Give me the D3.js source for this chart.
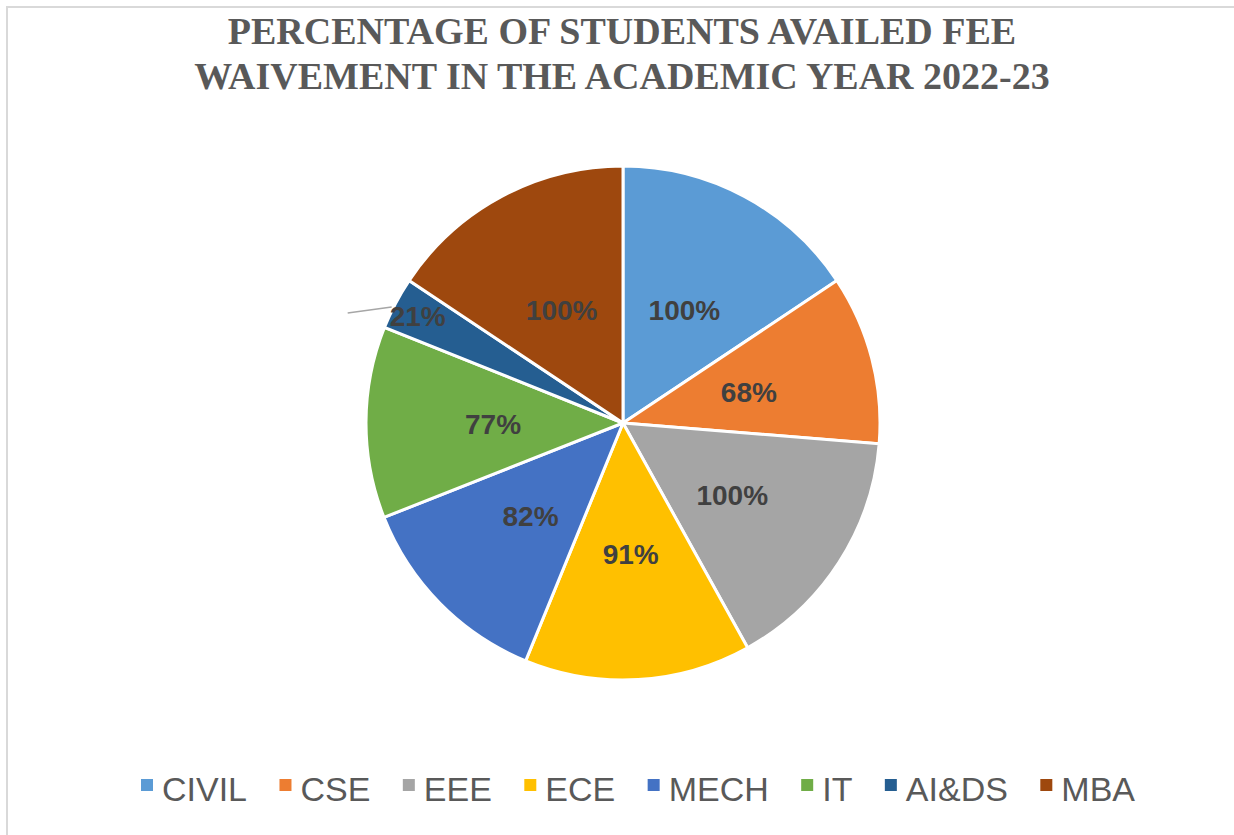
<!DOCTYPE html>
<html><head><meta charset="utf-8">
<script src="https://cdn.jsdelivr.net/npm/d3@7/dist/d3.min.js"></script>
<style>html,body{margin:0;padding:0;background:#fff;}svg{display:block;}</style>
</head><body>
<script>
const categories = ["CIVIL","CSE","EEE","ECE","MECH","IT","AI&DS","MBA"];
const values = [100,68,100,91,82,77,21,100];
const labels = ["100%","68%","100%","91%","82%","77%","21%","100%"];
const colors = ["#5B9BD5","#ED7D31","#A5A5A5","#FFC000","#4472C4","#70AD47","#255E91","#9E480E"];
const titleLines = ["PERCENTAGE OF STUDENTS AVAILED FEE","WAIVEMENT IN THE ACADEMIC YEAR 2022-23"];

const W = 1234, H = 835;
const svg = d3.select("body").append("svg").attr("width", W).attr("height", H);
svg.append("rect").attr("width", W).attr("height", H).attr("fill", "#fff");
// border (left and top visible)
svg.append("path").attr("d", `M7,${H} L7,7 L${W},7`).attr("fill","none").attr("stroke","#d9d9d9").attr("stroke-width",2);

// title
const title = svg.append("text").attr("text-anchor","middle")
  .attr("font-family","'Liberation Serif','Times New Roman',serif").attr("font-weight","bold")
  .attr("font-size",38).attr("fill","#595959");
titleLines.forEach((t,i)=>title.append("tspan").attr("x",622).attr("y",44+i*45).text(t));

// pie
const cx = 623, cy = 423, R = 257;
const pie = d3.pie().sort(null).value(d=>d)(values);
const arc = d3.arc().innerRadius(0).outerRadius(R);
const g = svg.append("g").attr("transform",`translate(${cx},${cy})`);
g.selectAll("path.slice").data(pie).enter().append("path").attr("class","slice")
  .attr("d", arc).attr("fill",(d,i)=>colors[i]).attr("stroke","#fff").attr("stroke-width",3);

const labelArc = d3.arc().innerRadius(130).outerRadius(130);
const outerLabelArc = d3.arc().innerRadius(232).outerRadius(232);
g.selectAll("text.lbl").data(pie).enter().append("text").attr("class","lbl")
  .attr("transform",(d,i)=>{const c=(values[i]<40?outerLabelArc:labelArc).centroid(d);return `translate(${c[0]},${c[1]})`;})
  .attr("text-anchor","middle").attr("dy","0.4em")
  .attr("font-family","'Liberation Sans',Arial,sans-serif").attr("font-weight","bold")
  .attr("font-size",28).attr("fill","#404040")
  .text((d,i)=>labels[i]);
// leader line for small slice
pie.forEach((d,i)=>{
  if(values[i]<40){
    const c = outerLabelArc.centroid(d);
    g.append("line").attr("x1",c[0]-70).attr("y1",c[1]-2).attr("x2",c[0]-26).attr("y2",c[1]-8)
      .attr("stroke","#a6a6a6").attr("stroke-width",1.5);
  }
});

// legend
const leg = svg.append("g");
const items = leg.selectAll("g").data(categories).enter().append("g");
items.append("rect").attr("width",12).attr("height",12).attr("y",779).attr("fill",(d,i)=>colors[i]);
items.append("text").attr("x",21).attr("y",801)
  .attr("font-family","'Liberation Sans',Arial,sans-serif").attr("font-size",34).attr("fill","#595959")
  .text(d=>d);
const widths = [];
items.each(function(){ widths.push(21 + d3.select(this).select("text").node().getComputedTextLength()); });
const startX = 141, endX = 1135;
const sum = d3.sum(widths);
const gap = (endX - startX - sum) / (categories.length - 1);
let x = startX;
items.each(function(d,i){ d3.select(this).attr("transform",`translate(${x},0)`); x += widths[i] + gap; });
</script>
</body></html>
